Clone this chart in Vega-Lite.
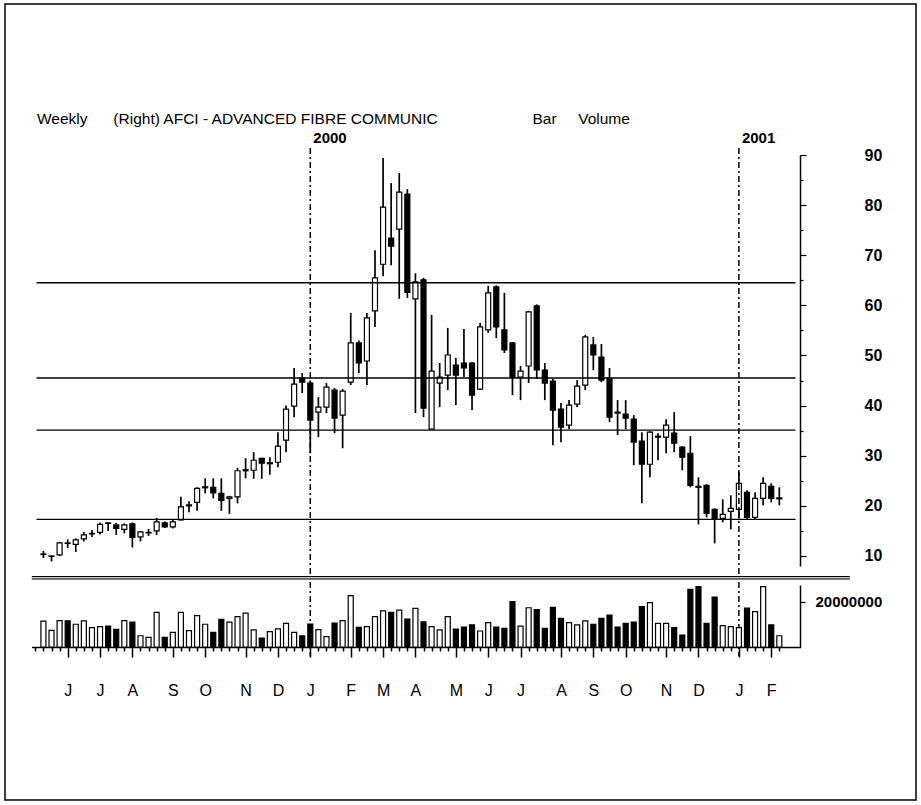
{
  "$schema": "https://vega.github.io/schema/vega-lite/v6.json",
  "width": 911,
  "height": 796,
  "autosize": {"type": "none"},
  "padding": {"left": 5, "top": 4, "right": 5, "bottom": 5},
  "background": "white",
  "config": {"view": {"stroke": "black", "strokeWidth": 1.5}, "font": "Liberation Sans"},
  "title": {
    "text": "Weekly\u00a0\u00a0\u00a0\u00a0\u00a0\u00a0(Right) AFCI - ADVANCED FIBRE COMMUNIC\u00a0\u00a0\u00a0\u00a0\u00a0\u00a0\u00a0\u00a0\u00a0\u00a0\u00a0\u00a0\u00a0\u00a0\u00a0\u00a0\u00a0\u00a0\u00a0\u00a0\u00a0\u00a0Bar\u00a0\u00a0\u00a0\u00a0\u00a0Volume",
    "anchor": "start", "frame": "group", "orient": "top", "offset": 0,
    "dx": 32, "dy": 135, "baseline": "alphabetic",
    "fontSize": 15.5, "fontWeight": "normal", "font": "Liberation Sans", "color": "black"
  },
  "datasets": {
    "weeks": [
      {"date":"1999/05/16","open":10.3,"high":11.0,"low":9.6,"close":10.4,"volume":11500000},
      {"date":"1999/05/23","open":9.9,"high":10.1,"low":8.9,"close":10.0,"volume":7400000},
      {"date":"1999/05/30","open":10.2,"high":12.8,"low":10.0,"close":12.6,"volume":11700000},
      {"date":"1999/06/06","open":12.6,"high":13.3,"low":11.6,"close":12.5,"volume":11600000},
      {"date":"1999/06/13","open":12.3,"high":13.5,"low":10.8,"close":13.2,"volume":10100000},
      {"date":"1999/06/20","open":13.4,"high":14.8,"low":12.9,"close":14.2,"volume":11600000},
      {"date":"1999/06/27","open":14.4,"high":15.2,"low":13.8,"close":14.5,"volume":8600000},
      {"date":"1999/07/04","open":14.7,"high":16.7,"low":14.3,"close":16.3,"volume":9000000},
      {"date":"1999/07/11","open":16.6,"high":16.7,"low":15.0,"close":16.5,"volume":9300000},
      {"date":"1999/07/18","open":16.2,"high":16.6,"low":14.2,"close":15.5,"volume":7800000},
      {"date":"1999/07/25","open":15.3,"high":16.5,"low":14.5,"close":16.2,"volume":11700000},
      {"date":"1999/08/01","open":16.4,"high":16.7,"low":11.7,"close":13.7,"volume":11000000},
      {"date":"1999/08/08","open":13.8,"high":15.0,"low":12.9,"close":14.8,"volume":5000000},
      {"date":"1999/08/15","open":14.6,"high":15.4,"low":14.0,"close":14.7,"volume":4300000},
      {"date":"1999/08/22","open":15.0,"high":17.6,"low":14.2,"close":16.8,"volume":15400000},
      {"date":"1999/08/29","open":16.6,"high":16.9,"low":15.6,"close":15.8,"volume":4300000},
      {"date":"1999/09/05","open":15.8,"high":17.2,"low":15.5,"close":16.8,"volume":6500000},
      {"date":"1999/09/12","open":17.2,"high":21.8,"low":17.1,"close":19.8,"volume":15400000},
      {"date":"1999/09/19","open":20.0,"high":20.9,"low":18.7,"close":20.2,"volume":7300000},
      {"date":"1999/09/26","open":20.7,"high":23.7,"low":19.0,"close":23.5,"volume":13900000},
      {"date":"1999/10/03","open":23.6,"high":25.5,"low":22.5,"close":23.8,"volume":10100000},
      {"date":"1999/10/10","open":23.7,"high":25.5,"low":21.5,"close":22.6,"volume":6500000},
      {"date":"1999/10/17","open":22.5,"high":25.5,"low":19.0,"close":21.1,"volume":12300000},
      {"date":"1999/10/24","open":21.5,"high":22.0,"low":18.4,"close":21.8,"volume":11000000},
      {"date":"1999/10/31","open":21.8,"high":27.6,"low":20.5,"close":27.0,"volume":13500000},
      {"date":"1999/11/07","open":27.0,"high":29.5,"low":25.5,"close":27.2,"volume":15000000},
      {"date":"1999/11/14","open":27.1,"high":30.7,"low":25.4,"close":29.1,"volume":7600000},
      {"date":"1999/11/21","open":29.5,"high":29.6,"low":25.4,"close":28.5,"volume":3900000},
      {"date":"1999/11/28","open":28.4,"high":29.7,"low":26.2,"close":28.6,"volume":6800000},
      {"date":"1999/12/05","open":28.7,"high":34.7,"low":27.7,"close":31.9,"volume":8000000},
      {"date":"1999/12/12","open":33.1,"high":40.0,"low":30.7,"close":39.3,"volume":10500000},
      {"date":"1999/12/19","open":39.9,"high":47.5,"low":37.7,"close":44.3,"volume":6500000},
      {"date":"1999/12/26","open":45.5,"high":46.5,"low":42.5,"close":44.7,"volume":4900000},
      {"date":"2000/01/02","open":44.5,"high":45.0,"low":30.5,"close":37.1,"volume":10200000},
      {"date":"2000/01/09","open":38.7,"high":41.7,"low":33.7,"close":39.7,"volume":7700000},
      {"date":"2000/01/16","open":39.7,"high":44.5,"low":38.5,"close":43.7,"volume":4600000},
      {"date":"2000/01/23","open":43.1,"high":43.5,"low":34.5,"close":37.5,"volume":10600000},
      {"date":"2000/01/30","open":38.1,"high":43.3,"low":31.5,"close":42.9,"volume":11700000},
      {"date":"2000/02/06","open":44.7,"high":58.5,"low":44.1,"close":52.5,"volume":22800000},
      {"date":"2000/02/13","open":52.5,"high":53.0,"low":46.5,"close":48.5,"volume":8700000},
      {"date":"2000/02/20","open":48.9,"high":58.5,"low":44.1,"close":57.5,"volume":9000000},
      {"date":"2000/02/27","open":58.9,"high":71.0,"low":55.7,"close":65.5,"volume":13500000},
      {"date":"2000/03/05","open":68.2,"high":89.4,"low":65.8,"close":79.6,"volume":16000000},
      {"date":"2000/03/12","open":73.4,"high":84.4,"low":68.0,"close":71.8,"volume":15400000},
      {"date":"2000/03/19","open":75.2,"high":86.4,"low":61.3,"close":82.6,"volume":16400000},
      {"date":"2000/03/26","open":82.2,"high":83.2,"low":61.5,"close":62.6,"volume":12400000},
      {"date":"2000/04/02","open":61.3,"high":66.4,"low":38.5,"close":64.7,"volume":17100000},
      {"date":"2000/04/09","open":65.1,"high":65.5,"low":37.7,"close":39.5,"volume":11200000},
      {"date":"2000/04/16","open":35.3,"high":58.1,"low":35.3,"close":46.9,"volume":9000000},
      {"date":"2000/04/23","open":44.5,"high":48.5,"low":39.7,"close":45.7,"volume":7600000},
      {"date":"2000/04/30","open":46.1,"high":55.5,"low":43.1,"close":50.1,"volume":13500000},
      {"date":"2000/05/07","open":48.1,"high":49.5,"low":40.1,"close":46.1,"volume":7900000},
      {"date":"2000/05/14","open":48.5,"high":55.3,"low":45.7,"close":47.5,"volume":8800000},
      {"date":"2000/05/21","open":48.5,"high":48.7,"low":39.1,"close":42.1,"volume":9800000},
      {"date":"2000/05/28","open":43.3,"high":56.5,"low":43.1,"close":55.7,"volume":7100000},
      {"date":"2000/06/04","open":55.1,"high":63.9,"low":54.5,"close":62.5,"volume":10800000},
      {"date":"2000/06/11","open":63.7,"high":64.0,"low":53.5,"close":55.7,"volume":8800000},
      {"date":"2000/06/18","open":55.1,"high":62.5,"low":50.5,"close":51.1,"volume":8300000},
      {"date":"2000/06/25","open":52.5,"high":52.7,"low":42.1,"close":45.7,"volume":20100000},
      {"date":"2000/07/02","open":45.7,"high":47.9,"low":41.1,"close":46.9,"volume":9300000},
      {"date":"2000/07/09","open":47.9,"high":58.9,"low":44.5,"close":58.7,"volume":17400000},
      {"date":"2000/07/16","open":59.9,"high":60.2,"low":45.3,"close":47.1,"volume":16600000},
      {"date":"2000/07/23","open":47.1,"high":48.5,"low":41.1,"close":44.5,"volume":8300000},
      {"date":"2000/07/30","open":44.9,"high":45.3,"low":32.1,"close":39.1,"volume":17600000},
      {"date":"2000/08/06","open":39.3,"high":40.5,"low":32.7,"close":35.7,"volume":12700000},
      {"date":"2000/08/13","open":36.1,"high":41.1,"low":35.3,"close":40.1,"volume":10800000},
      {"date":"2000/08/20","open":40.3,"high":45.1,"low":39.7,"close":43.9,"volume":9800000},
      {"date":"2000/08/27","open":44.1,"high":54.1,"low":43.1,"close":53.7,"volume":11600000},
      {"date":"2000/09/03","open":52.1,"high":53.7,"low":47.1,"close":50.1,"volume":10100000},
      {"date":"2000/09/10","open":49.7,"high":52.3,"low":44.7,"close":45.1,"volume":12700000},
      {"date":"2000/09/17","open":45.5,"high":47.5,"low":36.7,"close":37.7,"volume":14200000},
      {"date":"2000/09/24","open":38.7,"high":41.1,"low":34.1,"close":38.5,"volume":8800000},
      {"date":"2000/10/01","open":38.3,"high":41.1,"low":35.3,"close":37.5,"volume":10500000},
      {"date":"2000/10/08","open":37.3,"high":38.1,"low":28.1,"close":32.7,"volume":11000000},
      {"date":"2000/10/15","open":32.9,"high":34.7,"low":20.5,"close":28.3,"volume":17900000},
      {"date":"2000/10/22","open":28.3,"high":34.9,"low":25.7,"close":34.7,"volume":19700000},
      {"date":"2000/10/29","open":33.7,"high":34.5,"low":29.1,"close":33.9,"volume":10500000},
      {"date":"2000/11/05","open":33.7,"high":37.3,"low":30.5,"close":36.1,"volume":10500000},
      {"date":"2000/11/12","open":34.5,"high":38.7,"low":30.7,"close":32.5,"volume":8600000},
      {"date":"2000/11/19","open":31.7,"high":31.9,"low":27.1,"close":29.7,"volume":5300000},
      {"date":"2000/11/26","open":30.5,"high":33.9,"low":23.7,"close":24.1,"volume":25600000},
      {"date":"2000/12/03","open":23.9,"high":25.7,"low":16.3,"close":23.7,"volume":26800000},
      {"date":"2000/12/10","open":24.1,"high":24.3,"low":17.7,"close":18.5,"volume":10500000},
      {"date":"2000/12/17","open":19.3,"high":19.5,"low":12.5,"close":17.5,"volume":22100000},
      {"date":"2000/12/24","open":17.5,"high":21.3,"low":16.7,"close":18.3,"volume":9500000},
      {"date":"2000/12/31","open":18.9,"high":22.1,"low":15.3,"close":19.5,"volume":9000000},
      {"date":"2001/01/07","open":19.3,"high":26.7,"low":17.5,"close":24.5,"volume":8600000},
      {"date":"2001/01/14","open":22.7,"high":23.1,"low":17.3,"close":17.7,"volume":17200000},
      {"date":"2001/01/21","open":17.7,"high":22.7,"low":17.3,"close":21.5,"volume":15700000},
      {"date":"2001/01/28","open":21.5,"high":25.7,"low":20.1,"close":24.5,"volume":26800000},
      {"date":"2001/02/04","open":23.9,"high":24.5,"low":20.7,"close":21.5,"volume":9800000},
      {"date":"2001/02/11","open":21.4,"high":23.7,"low":20.1,"close":21.6,"volume":5000000}
    ],
    "levels": [{"level":64.5},{"level":45.5},{"level":35.1},{"level":17.3}],
    "years": [{"date":"2000/01/02","year":"2000"},{"date":"2001/01/07","year":"2001"}],
    "frame": [{"part":"separator"}]
  },
  "layer": [
    {
      "layer": [
        {
          "data": {"name": "weeks"},
          "mark": {"type": "rule", "color": "black", "strokeWidth": 1.7},
          "encoding": {
            "x": {
              "field": "date", "type": "temporal",
              "scale": {"domain": [{"year":1999,"month":5,"date":10},{"year":2001,"month":2,"date":25}], "range": [26.5, 795.5], "nice": false},
              "axis": {
                "orient": "bottom", "offset": -153, "title": null, "grid": false,
                "tickCount": {"interval": "week", "step": 1},
                "labelExpr": "date(datum.value) <= 7 ? substring(timeFormat(datum.value, '%b'), 0, 1) : ''",
                "tickSize": {"condition": {"test": "date(datum.value) <= 7", "value": 10}, "value": 4},
                "tickOpacity": {"condition": {"test": "datum.value > time(datetime(2001, 1, 12))", "value": 0}, "value": 1},
                "labelOverlap": false, "labelFlush": false, "labelBound": false,
                "labelPadding": 25, "labelFontSize": 16, "labelFont": "Liberation Sans", "labelColor": "black",
                "domainColor": "black", "domainWidth": 1.5, "tickColor": "black", "tickWidth": 1.5
              }
            },
            "y": {
              "field": "low", "type": "quantitative",
              "scale": {"domain": [8, 90], "range": [562, 151], "nice": false, "zero": false},
              "axis": {
                "orient": "right", "offset": -116, "title": null, "grid": false,
                "values": [10,15,20,25,30,35,40,45,50,55,60,65,70,75,80,85,90],
                "labelExpr": "datum.value % 10 === 0 ? datum.label : ''",
                "tickSize": {"condition": {"test": "datum.value % 10 === 0", "value": 6}, "value": 3},
                "labelOverlap": false, "labelPadding": 58, "labelAlign": "left", "labelBaseline": "middle",
                "labelFontSize": 16, "labelFont": "Liberation Sans", "labelFontWeight": "bold", "labelColor": "black",
                "domainColor": "black", "domainWidth": 1.5, "tickColor": "black", "tickWidth": 1.2
              }
            },
            "y2": {"field": "high"}
          }
        },
        {
          "data": {"name": "weeks"},
          "mark": {"type": "bar", "width": 5, "stroke": "black", "strokeWidth": 1.2},
          "encoding": {
            "x": {"field": "date", "type": "temporal"},
            "y": {"field": "open", "type": "quantitative"},
            "y2": {"field": "close"},
            "fill": {"condition": {"test": "datum.close < datum.open", "value": "black"}, "value": "white"}
          }
        },
        {
          "data": {"name": "levels"},
          "mark": {"type": "rule", "color": "black", "strokeWidth": 1.4},
          "encoding": {
            "x": {"datum": {"year":1999,"month":5,"date":10}, "type": "temporal"},
            "x2": {"datum": {"year":2001,"month":2,"date":25}},
            "y": {"field": "level", "type": "quantitative"}
          }
        },
        {
          "data": {"name": "years"},
          "mark": {"type": "rule", "color": "black", "strokeWidth": 1.5, "strokeDash": [6, 3, 2, 3]},
          "encoding": {
            "x": {"field": "date", "type": "temporal"},
            "y": {"datum": 91.4, "type": "quantitative"},
            "y2": {"datum": -10.0}
          }
        },
        {
          "data": {"name": "years"},
          "mark": {"type": "text", "align": "left", "baseline": "alphabetic", "dx": 3, "fontSize": 15, "fontWeight": "bold", "font": "Liberation Sans", "color": "black"},
          "encoding": {
            "x": {"field": "date", "type": "temporal"},
            "y": {"datum": 92.4, "type": "quantitative"},
            "text": {"field": "year"}
          }
        },
        {
          "data": {"name": "frame"},
          "mark": {"type": "rule", "color": "black", "strokeWidth": 3.6},
          "encoding": {
            "x": {"datum": {"year":1999,"month":5,"date":6}, "type": "temporal"},
            "x2": {"datum": {"year":2001,"month":4,"date":13}},
            "y": {"datum": 5.65, "type": "quantitative"}
          }
        },
        {
          "data": {"name": "frame"},
          "mark": {"type": "rule", "color": "#c8c8c8", "strokeWidth": 1.4},
          "encoding": {
            "x": {"datum": {"year":1999,"month":5,"date":6}, "type": "temporal"},
            "x2": {"datum": {"year":2001,"month":4,"date":13}},
            "y": {"datum": 5.65, "type": "quantitative"}
          }
        }
      ]
    },
    {
      "layer": [
        {
          "data": {"name": "weeks"},
          "mark": {"type": "bar", "width": 5, "stroke": "black", "strokeWidth": 1.2},
          "encoding": {
            "x": {"field": "date", "type": "temporal"},
            "y": {
              "field": "volume", "type": "quantitative",
              "scale": {"domain": [0, 27500000], "range": [643, 581], "nice": false},
              "axis": {
                "orient": "right", "offset": -116, "title": null, "grid": false,
                "values": [20000000], "format": "d",
                "tickSize": 5, "labelPadding": 10, "labelAlign": "left", "labelBaseline": "middle",
                "labelFontSize": 15, "labelFont": "Liberation Sans", "labelFontWeight": "bold", "labelColor": "black",
                "domainColor": "black", "domainWidth": 1.5, "tickColor": "black", "tickWidth": 1.2
              }
            },
            "fill": {"condition": {"test": "datum.close < datum.open", "value": "black"}, "value": "white"}
          }
        }
      ]
    }
  ],
  "resolve": {"scale": {"y": "independent"}, "axis": {"y": "independent"}}
}
